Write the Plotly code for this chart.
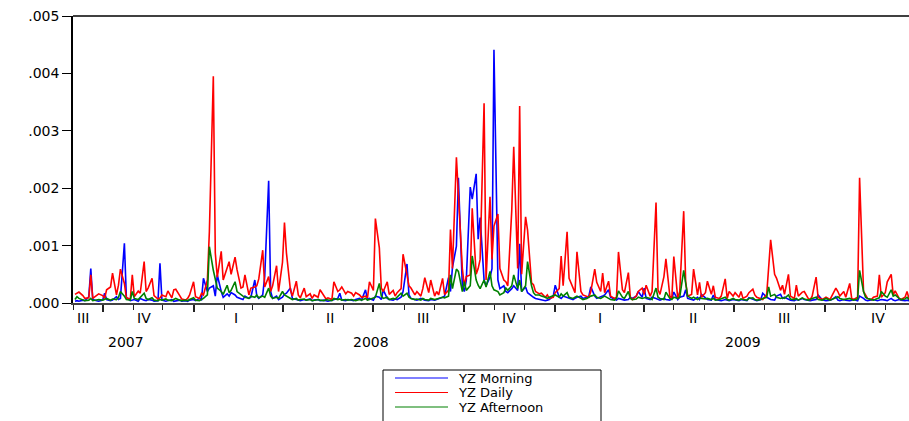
import numpy as np
import pandas as pd
import plotly.graph_objects as go

# values in units of 1e-5, one value every second trading day starting 2007-09-03
yz_daily = [
    15,17,19,13,8,9,49,8,13,16,
    13,8,23,28,52,14,31,59,34,9,
    7,49,11,21,17,72,20,26,43,13,
    7,9,14,11,21,9,23,24,13,7,
    5,8,14,37,11,8,17,14,40,124,
    395,87,45,90,40,62,72,50,80,58,
    26,28,49,14,26,28,30,42,92,28,
    46,20,30,65,20,71,140,87,23,12,
    38,14,9,26,11,16,8,14,10,23,
    12,7,9,6,37,20,23,28,16,20,
    17,12,18,14,10,12,9,37,22,147,
    96,26,20,37,15,22,12,18,25,85,
    49,30,26,14,20,12,25,44,18,40,
    12,20,14,43,15,22,128,60,254,185,
    60,30,46,49,165,50,60,76,348,40,
    185,76,134,155,60,40,37,30,161,272,
    60,343,50,150,127,35,32,20,16,17,
    10,14,8,10,18,25,82,30,124,43,
    25,18,89,20,14,12,10,20,59,36,
    20,52,18,38,12,8,10,89,23,18,
    53,10,6,12,20,26,15,31,12,20,
    175,23,15,46,77,12,8,81,8,20,
    160,37,12,15,59,14,36,10,18,38,
    15,30,10,8,12,42,8,20,12,18,
    10,20,8,12,18,24,14,10,8,6,
    15,67,110,50,43,22,31,15,50,12,
    8,31,12,19,20,8,6,12,45,10,
    6,8,10,6,12,26,20,12,20,10,
    34,8,6,10,218,20,14,8,6,10,
    12,49,10,18,37,50,14,21,8,6,
    10,20,8,10,
]

yz_morning = [
    3,4,3,5,4,11,60,6,4,3,
    5,17,6,4,5,11,6,8,104,10,
    4,5,6,3,8,5,4,6,5,3,
    4,69,5,3,4,6,3,4,5,3,
    4,3,5,6,4,8,6,43,20,26,
    30,12,49,20,10,16,12,18,14,10,
    8,6,12,8,10,40,12,8,14,46,
    213,20,8,12,6,10,15,17,26,8,
    6,5,4,6,5,7,4,5,6,4,
    5,4,3,5,6,8,17,5,4,6,
    5,4,6,8,5,23,6,8,5,12,
    10,6,23,8,6,5,7,6,10,20,
    68,14,8,6,5,8,6,5,4,6,
    5,6,8,10,12,44,20,62,99,218,
    30,20,40,202,181,225,111,149,40,30,
    45,60,441,40,25,30,20,18,25,30,
    22,103,20,28,18,12,10,8,6,5,
    4,5,6,12,31,10,8,12,10,8,
    6,8,10,12,8,10,12,28,12,8,
    10,12,14,23,10,6,5,8,6,5,
    6,10,8,12,20,10,26,8,6,10,
    8,6,5,8,6,5,8,19,6,10,
    12,23,8,6,5,10,6,15,8,6,
    5,14,6,5,4,6,5,4,6,5,
    4,6,5,4,9,6,5,4,6,17,
    10,8,6,5,12,15,8,10,6,5,
    4,6,5,8,6,5,4,5,6,14,
    6,5,4,5,6,11,5,4,6,5,
    4,5,6,4,12,8,5,4,5,6,
    4,5,6,5,4,8,5,4,6,5,
    4,5,4,5,
]

yz_afternoon = [
    6,11,8,5,4,5,8,4,5,6,
    5,6,8,5,7,6,10,20,12,6,
    5,20,8,6,10,17,8,6,9,5,
    4,6,5,7,5,4,6,8,5,4,
    5,4,6,9,5,4,6,8,14,98,
    57,40,26,20,15,31,18,22,37,20,
    14,12,10,8,12,10,14,9,12,10,
    26,12,8,10,8,20,14,12,8,6,
    8,5,6,7,5,6,4,5,6,5,
    4,6,5,4,8,6,7,5,6,5,
    6,5,4,6,5,8,5,6,8,10,
    34,12,8,10,6,8,7,10,17,12,
    17,10,8,6,7,5,8,6,5,8,
    6,7,8,10,9,12,49,25,59,55,
    20,37,22,30,82,40,31,25,40,28,
    55,30,23,20,14,18,26,22,30,49,
    25,40,20,30,72,30,18,14,14,12,
    10,8,10,12,14,10,16,12,18,10,
    8,10,12,8,6,8,10,12,14,10,
    8,10,12,8,6,5,8,21,10,8,
    20,8,6,7,10,8,9,10,8,6,
    26,10,8,6,19,8,6,10,8,10,
    57,38,12,8,10,6,9,8,7,8,
    6,8,5,6,7,10,6,5,8,6,
    5,7,6,5,8,9,6,5,6,8,
    10,28,12,15,10,8,9,8,14,7,
    6,8,5,9,7,5,6,8,10,6,
    5,6,8,5,6,9,11,8,6,7,
    8,6,5,7,57,20,10,8,6,5,
    8,9,20,12,10,23,12,14,8,6,
    7,10,6,8,
]

series_names = ["YZ Morning", "YZ Daily", "YZ Afternoon"]
series_colors = ["#0000FF", "#FF0000", "#008000"]

y_tick_vals = [0.000, 0.001, 0.002, 0.003, 0.004, 0.005]
y_tick_text = [".000", ".001", ".002", ".003", ".004", ".005"]

quarter_starts = ["2007-10-01", "2008-01-01", "2008-04-01", "2008-07-01", "2008-10-01",
                  "2009-01-01", "2009-04-01", "2009-07-01", "2009-10-01"]
quarter_labels = ["III", "IV", "I", "II", "III", "IV", "I", "II", "III", "IV"]
quarter_label_dates = ["2007-09-11", "2007-11-12", "2008-02-13", "2008-05-18", "2008-08-20",
                       "2008-11-15", "2009-02-15", "2009-05-20", "2009-08-20", "2009-11-24"]
year_labels = ["2007", "2008", "2009"]
year_label_dates = ["2007-10-25", "2008-06-29", "2009-07-10"]

scale = 1e-5
dates = pd.bdate_range("2007-09-03", periods=len(yz_daily), freq="2B")

W, H = 909, 421
ML, MR, MT, MB = 73, 0, 16, 118
PW, PH = W - ML - MR, H - MT - MB


def px_x(p):
    return (p - ML) / PW


def px_y(p):
    return (H - MB - p) / PH


fig = go.Figure()
for name, vals, col in zip(series_names, [yz_morning, yz_daily, yz_afternoon], series_colors):
    fig.add_trace(go.Scatter(x=dates, y=np.array(vals) * scale, mode="lines",
                             name=name, line=dict(color=col, width=1.6), showlegend=False))

font_family = "DejaVu Sans, Arial, sans-serif"

for lab, d in zip(quarter_labels, quarter_label_dates):
    fig.add_annotation(x=d, y=0, xref="x", yref="paper", text=lab, showarrow=False,
                       yanchor="middle", yshift=-15, font=dict(family=font_family, size=14, color="black"))
for lab, d in zip(year_labels, year_label_dates):
    fig.add_annotation(x=d, y=0, xref="x", yref="paper", text=lab, showarrow=False,
                       yanchor="middle", yshift=-39, font=dict(family=font_family, size=14, color="black"))

# frame top line
fig.add_shape(type="line", xref="paper", yref="paper", x0=0, x1=1, y0=1, y1=1,
              line=dict(color="black", width=1.5))

# legend box drawn below the plot
fig.add_shape(type="rect", xref="paper", yref="paper",
              x0=px_x(383), x1=px_x(601), y0=px_y(370), y1=px_y(430),
              line=dict(color="black", width=1), fillcolor="white", layer="above")
for k, (name, col) in enumerate(zip(series_names, series_colors)):
    yc = 378 + 14.5 * k
    fig.add_shape(type="line", xref="paper", yref="paper",
                  x0=px_x(395), x1=px_x(448), y0=px_y(yc), y1=px_y(yc),
                  line=dict(color=col, width=1.2), layer="above")
    fig.add_annotation(x=px_x(457), y=px_y(yc), xref="paper", yref="paper", text=name,
                       showarrow=False, xanchor="left", yanchor="middle", borderpad=0,
                       font=dict(family=font_family, size=13, color="black"))

fig.update_layout(
    width=W, height=H,
    margin=dict(l=ML, r=MR, t=MT, b=MB, autoexpand=False),
    paper_bgcolor="white", plot_bgcolor="white",
    showlegend=False,
    font=dict(family=font_family, size=14, color="black"),
)
fig.update_xaxes(
    type="date", range=["2007-09-01", "2009-12-25"], automargin=False,
    showgrid=False, zeroline=False,
    showline=True, linecolor="#444444", linewidth=2,
    tickvals=quarter_starts, showticklabels=False,
    ticks="outside", ticklen=7, tickwidth=2, tickcolor="#222222",
    minor=dict(dtick="M1", tick0="2007-01-01", ticks="outside", ticklen=5,
               tickwidth=1, tickcolor="#222222", showgrid=False),
)
fig.update_yaxes(
    range=[0, 0.005], automargin=False, showgrid=False, zeroline=False,
    showline=True, linecolor="black", linewidth=1.5,
    tickvals=y_tick_vals, ticktext=y_tick_text, ticklabeloverflow="allow",
    ticks="outside", ticklen=9, tickwidth=1, tickcolor="black",
    tickfont=dict(family=font_family, size=14, color="black"),
)

fig.write_html(
    "out.html",
    config={"displayModeBar": False},
    post_script="document.body.style.margin='0';document.body.style.overflow='hidden';",
)
